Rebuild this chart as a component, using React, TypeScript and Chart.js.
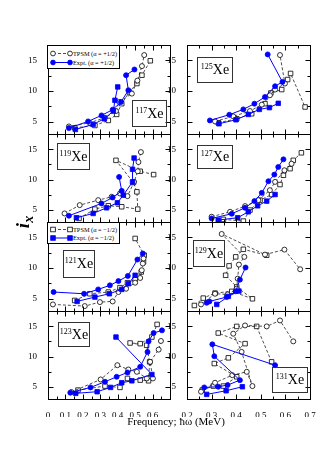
import React, { useEffect, useRef } from "react";
import { Chart, registerables } from "chart.js";
Chart.register(...registerables);

type Pt = [number, number];

const SERIF = "'Liberation Serif', 'Times New Roman', serif";

// ---- axis values ----
const yMin = 3;
const yMax = 17.5;
const yMajorTicks = [5, 10, 15];
const yMinorTicks = [7.5, 12.5];
const xLeftRange = [0, 0.7];
const xRightRange = [0.2, 0.7];
const xLeftLabels = [0, 0.1, 0.2, 0.3, 0.4, 0.5, 0.6];
const xLeftMajor = [0, 0.1, 0.2, 0.3, 0.4, 0.5, 0.6, 0.7];
const xLeftMinor = [0.05, 0.15, 0.25, 0.35, 0.45, 0.55, 0.65];
const xRightLabels = [0.2, 0.3, 0.4, 0.5, 0.6, 0.7];
const xRightMajor = [0.2, 0.3, 0.4, 0.5, 0.6, 0.7];
const xRightMinor = [0.25, 0.35, 0.45, 0.55, 0.65];

// ---- 117Xe ----
const xe117ExpA: Pt[] = [[0.120,3.96],[0.230,5.05],[0.307,6.03],[0.371,6.96],[0.419,8.22],[0.461,10.13],[0.448,12.58],[0.496,13.51]];
const xe117ExpB: Pt[] = [[0.157,3.74],[0.259,4.56],[0.323,5.48],[0.375,6.74],[0.384,8.49],[0.400,10.67]];
const xe117TpsmA: Pt[] = [[0.120,4.23],[0.240,4.83],[0.327,5.65],[0.390,6.74],[0.409,8.22],[0.481,9.58],[0.513,11.7],[0.539,14.06],[0.552,15.86]];
const xe117TpsmB: Pt[] = [[0.153,4.01],[0.269,4.39],[0.346,5.21],[0.394,6.19],[0.423,7.94],[0.467,9.85],[0.510,11.22],[0.539,12.58],[0.587,14.93]];

// ---- 125Xe ----
const xe125ExpA: Pt[] = [[0.293,5.21],[0.372,6.14],[0.429,7.01],[0.474,7.94],[0.517,9.03],[0.558,10.78],[0.588,11.49],[0.528,15.97]];
const xe125ExpB: Pt[] = [[0.330,4.67],[0.399,5.32],[0.449,6.19],[0.494,7.01],[0.535,7.3],[0.571,8.0]];
const xe125TpsmA: Pt[] = [[0.314,5.05],[0.388,5.87],[0.456,6.74],[0.504,7.78],[0.537,9.31],[0.558,10.24],[0.598,11.22],[0.578,15.86]];
const xe125TpsmB: Pt[] = [[0.327,4.83],[0.402,5.48],[0.463,6.30],[0.517,7.94],[0.541,9.69],[0.585,10.24],[0.609,11.87],[0.621,12.86],[0.680,7.4]];

// ---- 119Xe ----
const xe119ExpA: Pt[] = [[0.120,4.03],[0.307,6.06],[0.371,7.04],[0.423,8.13],[0.408,10.43]];
const xe119ExpB: Pt[] = [[0.163,3.70],[0.259,4.41],[0.336,5.34],[0.398,6.17],[0.432,7.42],[0.485,9.61],[0.485,11.68],[0.494,13.54]];
const xe119TpsmA: Pt[] = [[0.095,4.41],[0.182,5.78],[0.288,6.60],[0.365,7.15],[0.413,7.70],[0.456,7.26],[0.494,9.61],[0.515,11.36],[0.519,12.88],[0.533,14.52]];
const xe119TpsmB: Pt[] = [[0.178,3.59],[0.269,5.12],[0.346,5.67],[0.423,5.51],[0.515,5.12],[0.510,7.97],[0.490,9.50],[0.390,13.16],[0.529,11.36],[0.606,10.81]];

// ---- 127Xe ----
const xe127ExpA: Pt[] = [[0.300,3.59],[0.382,4.36],[0.436,5.34],[0.474,6.44],[0.504,7.80],[0.531,9.72],[0.555,10.81],[0.571,12.07],[0.592,13.32]];
const xe127ExpB: Pt[] = [[0.327,3.32],[0.406,3.70],[0.449,4.68],[0.487,5.67],[0.524,6.44],[0.558,7.53]];
const xe127TpsmA: Pt[] = [[0.300,3.87],[0.375,4.68],[0.436,5.62],[0.490,6.60],[0.537,8.24],[0.558,9.61],[0.596,11.52],[0.625,12.6]];
const xe127TpsmB: Pt[] = [[0.348,3.43],[0.429,3.15],[0.456,4.96],[0.497,6.60],[0.544,7.53],[0.578,9.17],[0.592,10.70],[0.619,11.79],[0.632,13.16],[0.665,14.4]];

// ---- 121Xe ----
const xe121ExpA: Pt[] = [[0.032,6.09],[0.207,5.81],[0.288,6.52],[0.355,7.18],[0.404,7.88],[0.458,8.71],[0.513,11.38],[0.544,12.37]];
const xe121ExpB: Pt[] = [[0.167,4.56],[0.269,5.27],[0.352,5.81],[0.423,6.52],[0.461,7.45],[0.500,8.82]];
const xe121TpsmA: Pt[] = [[0.028,4.07],[0.211,3.80],[0.298,4.45],[0.371,4.56],[0.404,6.09],[0.448,6.63],[0.500,7.61],[0.529,8.38],[0.538,9.64],[0.544,10.73],[0.548,11.55]];
const xe121TpsmB: Pt[] = [[0.153,4.72],[0.240,5.81],[0.346,6.09],[0.413,6.80],[0.456,7.61],[0.500,8.14],[0.535,9.36],[0.548,11.0],[0.552,12.09],[0.500,14.82]];

// ---- 129Xe ----
const xe129ExpA: Pt[] = [[0.280,4.34],[0.291,4.56],[0.361,5.27],[0.398,6.20],[0.415,8.11],[0.438,10.08]];
const xe129ExpB: Pt[] = [[0.321,4.07],[0.368,5.38],[0.411,6.25]];
const xe129TpsmA: Pt[] = [[0.257,4.07],[0.314,5.81],[0.365,5.70],[0.402,6.63],[0.406,8.27],[0.411,10.56],[0.433,11.82],[0.341,15.55],[0.517,12.19],[0.596,13.0],[0.660,9.8]];
const xe129TpsmB: Pt[] = [[0.230,3.90],[0.266,5.10],[0.314,5.92],[0.382,6.20],[0.466,4.99],[0.402,6.91],[0.357,8.82],[0.371,10.35],[0.398,11.82],[0.429,13.05],[0.524,12.09]];

// ---- 123Xe ----
const xe123ExpA: Pt[] = [[0.128,4.04],[0.244,4.91],[0.327,5.84],[0.394,6.66],[0.456,7.37],[0.529,8.30],[0.571,10.76],[0.577,12.50],[0.606,13.87],[0.654,14.31]];
const xe123ExpB: Pt[] = [[0.159,3.93],[0.282,4.20],[0.359,4.91],[0.423,5.68],[0.481,6.0],[0.596,7.04],[0.390,13.21]];
const xe123TpsmA: Pt[] = [[0.134,4.15],[0.302,6.22],[0.398,8.57],[0.461,7.86],[0.510,7.48],[0.567,6.39],[0.602,6.39],[0.586,9.12],[0.635,11.14],[0.648,12.56]];
const xe123TpsmB: Pt[] = [[0.172,4.47],[0.327,5.13],[0.413,4.91],[0.456,6.39],[0.529,6.11],[0.577,6.0],[0.583,9.12],[0.566,11.85],[0.471,12.23],[0.529,12.12],[0.596,13.21],[0.626,15.29]];

// ---- 131Xe ----
const xe131ExpA: Pt[] = [[0.270,4.91],[0.327,5.02],[0.365,5.29],[0.415,6.11],[0.311,10.05],[0.303,12.01],[0.558,8.57]];
const xe131ExpB: Pt[] = [[0.280,3.76],[0.359,4.36],[0.425,5.02]];
const xe131TpsmA: Pt[] = [[0.257,4.20],[0.314,5.68],[0.384,6.93],[0.443,7.48],[0.466,5.13],[0.422,10.76],[0.388,13.76],[0.436,15.12],[0.524,14.96],[0.578,15.94],[0.632,12.5]];
const xe131TpsmB: Pt[] = [[0.262,4.47],[0.307,5.13],[0.348,5.13],[0.402,6.66],[0.311,8.84],[0.368,9.78],[0.436,12.12],[0.327,13.87],[0.402,14.96],[0.483,14.96],[0.544,9.12]];

type PanelDef = { iso: string; col: number; row: number; exA: Pt[]; exB: Pt[]; tpA: Pt[]; tpB: Pt[]; box: number[] };

const panels: PanelDef[] = [
  { iso: "117", col: 0, row: 0, exA: xe117ExpA, exB: xe117ExpB, tpA: xe117TpsmA, tpB: xe117TpsmB, box: [132, 100, 35, 27] },
  { iso: "125", col: 1, row: 0, exA: xe125ExpA, exB: xe125ExpB, tpA: xe125TpsmA, tpB: xe125TpsmB, box: [197, 57, 36, 26] },
  { iso: "119", col: 0, row: 1, exA: xe119ExpA, exB: xe119ExpB, tpA: xe119TpsmA, tpB: xe119TpsmB, box: [57, 143, 33, 27] },
  { iso: "127", col: 1, row: 1, exA: xe127ExpA, exB: xe127ExpB, tpA: xe127TpsmA, tpB: xe127TpsmB, box: [197, 145, 36, 24] },
  { iso: "121", col: 0, row: 2, exA: xe121ExpA, exB: xe121ExpB, tpA: xe121TpsmA, tpB: xe121TpsmB, box: [63, 250, 32, 28] },
  { iso: "129", col: 1, row: 2, exA: xe129ExpA, exB: xe129ExpB, tpA: xe129TpsmA, tpB: xe129TpsmB, box: [193, 240, 32, 27] },
  { iso: "123", col: 0, row: 3, exA: xe123ExpA, exB: xe123ExpB, tpA: xe123TpsmA, tpB: xe123TpsmB, box: [58, 322, 32, 25] },
  { iso: "131", col: 1, row: 3, exA: xe131ExpA, exB: xe131ExpB, tpA: xe131TpsmA, tpB: xe131TpsmB, box: [272, 367, 36, 26] },
];

// ---- layout ----
const COL_LEFT = [48, 187];
const COL_W = [122, 123];
const ROW_TOP = [45, 134, 222, 311];
const ROW_H = [89, 88, 89, 88];

const BLUE = "#0000ff";

const framePlugin = {
  id: "frame",
  afterDraw(chart: any, _args: any, opts: any) {
    const { ctx, chartArea: a, scales } = chart;
    const xs = scales.x;
    const ys = scales.y;
    const L = Math.round(a.left) + 0.5;
    const R = Math.round(a.right) + 0.5;
    const T = Math.round(a.top) + 0.5;
    const B = Math.round(a.bottom) + 0.5;
    ctx.save();
    ctx.strokeStyle = "#000";
    ctx.lineWidth = 1;
    ctx.setLineDash([]);
    ctx.strokeRect(L, T, R - L, B - T);
    ctx.beginPath();
    const xt = (vals: number[], len: number) => {
      vals.forEach((v) => {
        const p = Math.round(xs.getPixelForValue(v)) + 0.5;
        ctx.moveTo(p, B);
        ctx.lineTo(p, B - len);
        ctx.moveTo(p, T);
        ctx.lineTo(p, T + len);
      });
    };
    const yt = (vals: number[], len: number) => {
      vals.forEach((v) => {
        const p = Math.round(ys.getPixelForValue(v)) + 0.5;
        ctx.moveTo(L, p);
        ctx.lineTo(L + len, p);
        ctx.moveTo(R, p);
        ctx.lineTo(R - len, p);
      });
    };
    xt(opts.xMajor, 5);
    xt(opts.xMinor, 3);
    yt(yMajorTicks, 5);
    yt(yMinorTicks, 3);
    ctx.stroke();
    ctx.restore();
  },
};

const fmt = (v: number) => (v === 0 ? "0" : String(Math.round(v * 10) / 10));

function ds(data: Pt[], kind: "ex" | "tp", shape: "circle" | "rect") {
  const isEx = kind === "ex";
  return {
    data: data.map(([x, y]) => ({ x, y })),
    showLine: true,
    borderColor: isEx ? BLUE : "#000",
    borderWidth: isEx ? 1 : 0.7,
    borderDash: isEx ? [] : [3, 2],
    pointStyle: shape,
    pointRadius: shape === "rect" ? 3.2 : 2.5,
    pointBackgroundColor: isEx ? BLUE : "#fff",
    pointBorderColor: isEx ? BLUE : "#000",
    pointBorderWidth: 0.8,
    tension: 0,
    fill: false,
  };
}

function Panel({ p }: { p: PanelDef }) {
  const ref = useRef<HTMLCanvasElement>(null);
  const bottom = p.row === 3;
  const padL = 20;
  const padT = 10;
  const padR = 10;
  const padB = bottom ? 18 : 10;
  const w = padL + COL_W[p.col] + padR;
  const h = padT + ROW_H[p.row] + padB;
  useEffect(() => {
    const left = p.col === 0;
    const xr = left ? xLeftRange : xRightRange;
    const labels = left ? xLeftLabels : xRightLabels;
    const chart = new Chart(ref.current as HTMLCanvasElement, {
      type: "scatter",
      data: {
        datasets: [
          ds(p.exA, "ex", "circle"),
          ds(p.exB, "ex", "rect"),
          ds(p.tpA, "tp", "circle"),
          ds(p.tpB, "tp", "rect"),
        ] as any,
      },
      options: {
        responsive: false,
        animation: false,
        devicePixelRatio: 1,
        events: [],
        layout: { padding: { top: padT, right: padR, left: 0, bottom: 0 } },
        plugins: {
          legend: { display: false },
          tooltip: { enabled: false },
          frame: { xMajor: left ? xLeftMajor : xRightMajor, xMinor: left ? xLeftMinor : xRightMinor },
        } as any,
        scales: {
          x: {
            type: "linear",
            min: xr[0],
            max: xr[1],
            grid: { display: false },
            border: { display: false },
            ticks: {
              display: bottom,
              color: "#000",
              font: { family: SERIF, size: 9 },
              padding: 3,
              autoSkip: false,
              maxRotation: 0,
              minRotation: 0,
              callback: (v: any) => fmt(Number(v)),
            },
            afterBuildTicks: (s: any) => {
              s.ticks = labels.map((v) => ({ value: v }));
            },
            afterFit: (s: any) => {
              s.height = padB;
            },
          },
          y: {
            type: "linear",
            min: yMin,
            max: yMax,
            grid: { display: false },
            border: { display: false },
            ticks: {
              color: "#000",
              font: { family: SERIF, size: 9 },
              padding: 3,
              callback: (v: any) => fmt(Number(v)),
            },
            afterBuildTicks: (s: any) => {
              s.ticks = yMajorTicks.map((v) => ({ value: v }));
            },
            afterFit: (s: any) => {
              s.width = padL;
            },
          },
        } as any,
      },
      plugins: [framePlugin as any],
    });
    return () => chart.destroy();
  }, []);
  return (
    <canvas
      ref={ref}
      width={w}
      height={h}
      style={{ position: "absolute", left: COL_LEFT[p.col] - padL, top: ROW_TOP[p.row] - padT, width: w, height: h }}
    />
  );
}

function IsoLabel({ iso, box }: { iso: string; box: number[] }) {
  return (
    <div
      style={{
        position: "absolute",
        left: box[0],
        top: box[1],
        width: box[2],
        height: box[3],
        border: "1px solid #333",
        boxSizing: "border-box",
        display: "flex",
        alignItems: "center",
        justifyContent: "center",
        fontFamily: SERIF,
        color: "#000",
      }}
    >
      <span style={{ fontSize: 14, lineHeight: 1, whiteSpace: "nowrap" }}>
        <span style={{ fontSize: 8, verticalAlign: "top", lineHeight: 1 }}>{iso}</span>Xe
      </span>
    </div>
  );
}

function Legend({ left, top, height, rows }: { left: number; top: number; height: number; rows: { y: number; text: string; len: number; shape: string; ex: boolean }[] }) {
  return (
    <svg style={{ position: "absolute", left, top }} width={73} height={height + 1}>
      <rect x={0.5} y={0.5} width={72} height={height} fill="#fff" stroke="#000" strokeWidth={1} />
      {rows.map((r, i) => {
        const col = r.ex ? BLUE : "#000";
        const fill = r.ex ? BLUE : "#fff";
        const mk = (cx: number) =>
          r.shape === "circle" ? (
            <circle cx={cx} cy={r.y} r={2.4} fill={fill} stroke={col} strokeWidth={0.8} />
          ) : (
            <rect x={cx - 2.3} y={r.y - 2.3} width={4.6} height={4.6} fill={fill} stroke={col} strokeWidth={0.8} />
          );
        return (
          <g key={i}>
            <line x1={6} y1={r.y} x2={23} y2={r.y} stroke={col} strokeWidth={r.ex ? 1 : 0.7} strokeDasharray={r.ex ? undefined : "3,2"} />
            {mk(6)}
            {mk(23)}
            <text x={26} y={r.y + 2.4} fontSize={6.8} fontFamily={SERIF} fill="#000" textLength={r.len} lengthAdjust="spacingAndGlyphs">
              {r.text}
            </text>
          </g>
        );
      })}
    </svg>
  );
}

export default function App() {
  return (
    <div style={{ position: "fixed", left: 0, top: 0, width: 317, height: 449, overflow: "hidden", background: "#fff" }}>
      {panels.map((p) => (
        <Panel key={p.iso} p={p} />
      ))}
      {panels.map((p) => (
        <IsoLabel key={"l" + p.iso} iso={p.iso} box={p.box} />
      ))}
      <Legend
        left={47}
        top={45}
        height={23}
        rows={[
          { y: 8.5, text: "TPSM (α = +1/2)", len: 44, shape: "circle", ex: false },
          { y: 17.5, text: "Expt. (α = +1/2)", len: 41, shape: "circle", ex: true },
        ]}
      />
      <Legend
        left={47}
        top={222}
        height={21}
        rows={[
          { y: 7.5, text: "TPSM (α = −1/2)", len: 44, shape: "rect", ex: false },
          { y: 16, text: "Expt. (α = −1/2)", len: 41, shape: "rect", ex: true },
        ]}
      />
      <div
        style={{
          position: "absolute",
          left: 22,
          top: 222,
          transform: "translate(-50%, -50%) rotate(-90deg)",
          fontFamily: SERIF,
          fontWeight: "bold",
          fontStyle: "italic",
          whiteSpace: "nowrap",
          lineHeight: 1,
          color: "#000",
        }}
      >
        <span style={{ fontSize: 19 }}>i</span>
        <span style={{ fontSize: 14, position: "relative", top: 4 }}>x</span>
      </div>
      <div
        style={{
          position: "absolute",
          left: 76,
          top: 416,
          width: 200,
          textAlign: "center",
          fontFamily: SERIF,
          fontSize: 11,
          lineHeight: 1,
          color: "#000",
          whiteSpace: "nowrap",
        }}
      >
        Frequency; ħω (MeV)
      </div>
    </div>
  );
}
